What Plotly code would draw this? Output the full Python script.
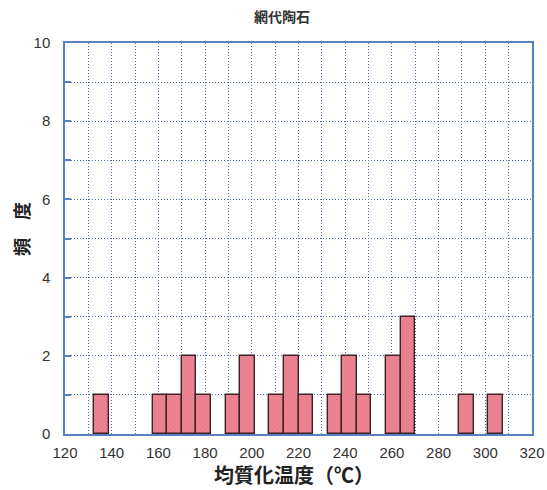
import plotly.graph_objects as go

# Homogenization temperature histogram (bin width 6.25 °C)
bin_left = [132.5, 157.5, 163.75, 170.0, 176.25, 188.75, 195.0, 207.5, 213.75,
            220.0, 232.5, 238.75, 245.0, 257.5, 263.75, 288.75, 301.25]
counts = [1, 1, 1, 2, 1, 1, 2, 1, 2, 1, 1, 2, 1, 2, 3, 1, 1]
bin_width = 6.25

title_text = "網代陶石"
x_title = "均質化温度（℃）"
y_title = "頻　度"
x_ticks = [120, 140, 160, 180, 200, 220, 240, 260, 280, 300, 320]
y_ticks = [0, 2, 4, 6, 8, 10]

centers = [b + bin_width / 2 for b in bin_left]

W, H = 547, 490
frame_blue = "#5a80c2"
grid_blue = "#4d6fb0"
grid_dash = "1px,2px"
font_stack = "Liberation Sans, Noto Sans CJK JP, sans-serif"
cjk = "Noto Sans CJK JP"

fig = go.Figure(
    go.Bar(
        x=centers,
        y=counts,
        width=bin_width,
        marker=dict(
            color="#ec8494",
            line=dict(color="#3d2226", width=1.4),
            pattern=dict(shape="x", size=3, solidity=0.2,
                         fgcolor="#c95a6d", fillmode="overlay"),
        ),
        hoverinfo="x+y",
    )
)

fig.update_layout(
    width=W,
    height=H,
    margin=dict(l=65, r=15, t=43, b=56, autoexpand=False),
    paper_bgcolor="white",
    plot_bgcolor="white",
    showlegend=False,
    bargap=0,
    font=dict(family=font_stack, color="#333333", size=15),
    annotations=[
        # chart title
        dict(text=f"<b>{title_text}</b>", xref="paper", yref="paper",
             x=(282 - 65) / 467, y=1 + (43 - 16) / 391,
             xanchor="center", yanchor="middle", showarrow=False,
             font=dict(size=14, color="#333333", family=cjk)),
        # x-axis title
        dict(text=f"<b>{x_title}</b>", xref="paper", yref="paper",
             x=(294 - 65) / 467, y=-(475 - 434) / 391,
             xanchor="center", yanchor="middle", showarrow=False,
             font=dict(size=20, color="#222222", family=cjk)),
        # y-axis title
        dict(text=f"<b>{y_title}</b>", xref="paper", yref="paper",
             x=-(65 - 21) / 467, y=(434 - 229) / 391,
             xanchor="center", yanchor="middle", showarrow=False,
             textangle=-90,
             font=dict(size=18, color="#222222", family=cjk)),
    ],
)

fig.update_xaxes(
    range=[120, 320],
    tickvals=x_ticks,
    ticks="",
    automargin=False,
    showline=True, linecolor=frame_blue, linewidth=1.5, mirror=True,
    showgrid=True, gridcolor=grid_blue, griddash=grid_dash, gridwidth=1,
    minor=dict(dtick=10, tick0=120, showgrid=True, gridcolor=grid_blue,
               griddash=grid_dash, gridwidth=1),
    zeroline=False,
    ticklabelstandoff=4,
    tickfont=dict(size=15, color="#333333"),
)

fig.update_yaxes(
    range=[0, 10],
    tickvals=y_ticks,
    ticks="inside", ticklen=6, tickcolor=frame_blue, tickwidth=1.5,
    automargin=False,
    showline=True, linecolor=frame_blue, linewidth=1.5, mirror=True,
    showgrid=True, gridcolor=grid_blue, griddash=grid_dash, gridwidth=1,
    minor=dict(dtick=1, tick0=0, showgrid=True, gridcolor=grid_blue,
               griddash=grid_dash, gridwidth=1, ticks="inside", ticklen=6,
               tickcolor=frame_blue),
    zeroline=False,
    ticklabelstandoff=10,
    tickfont=dict(size=15, color="#333333"),
)

fig.write_html("out.html")
